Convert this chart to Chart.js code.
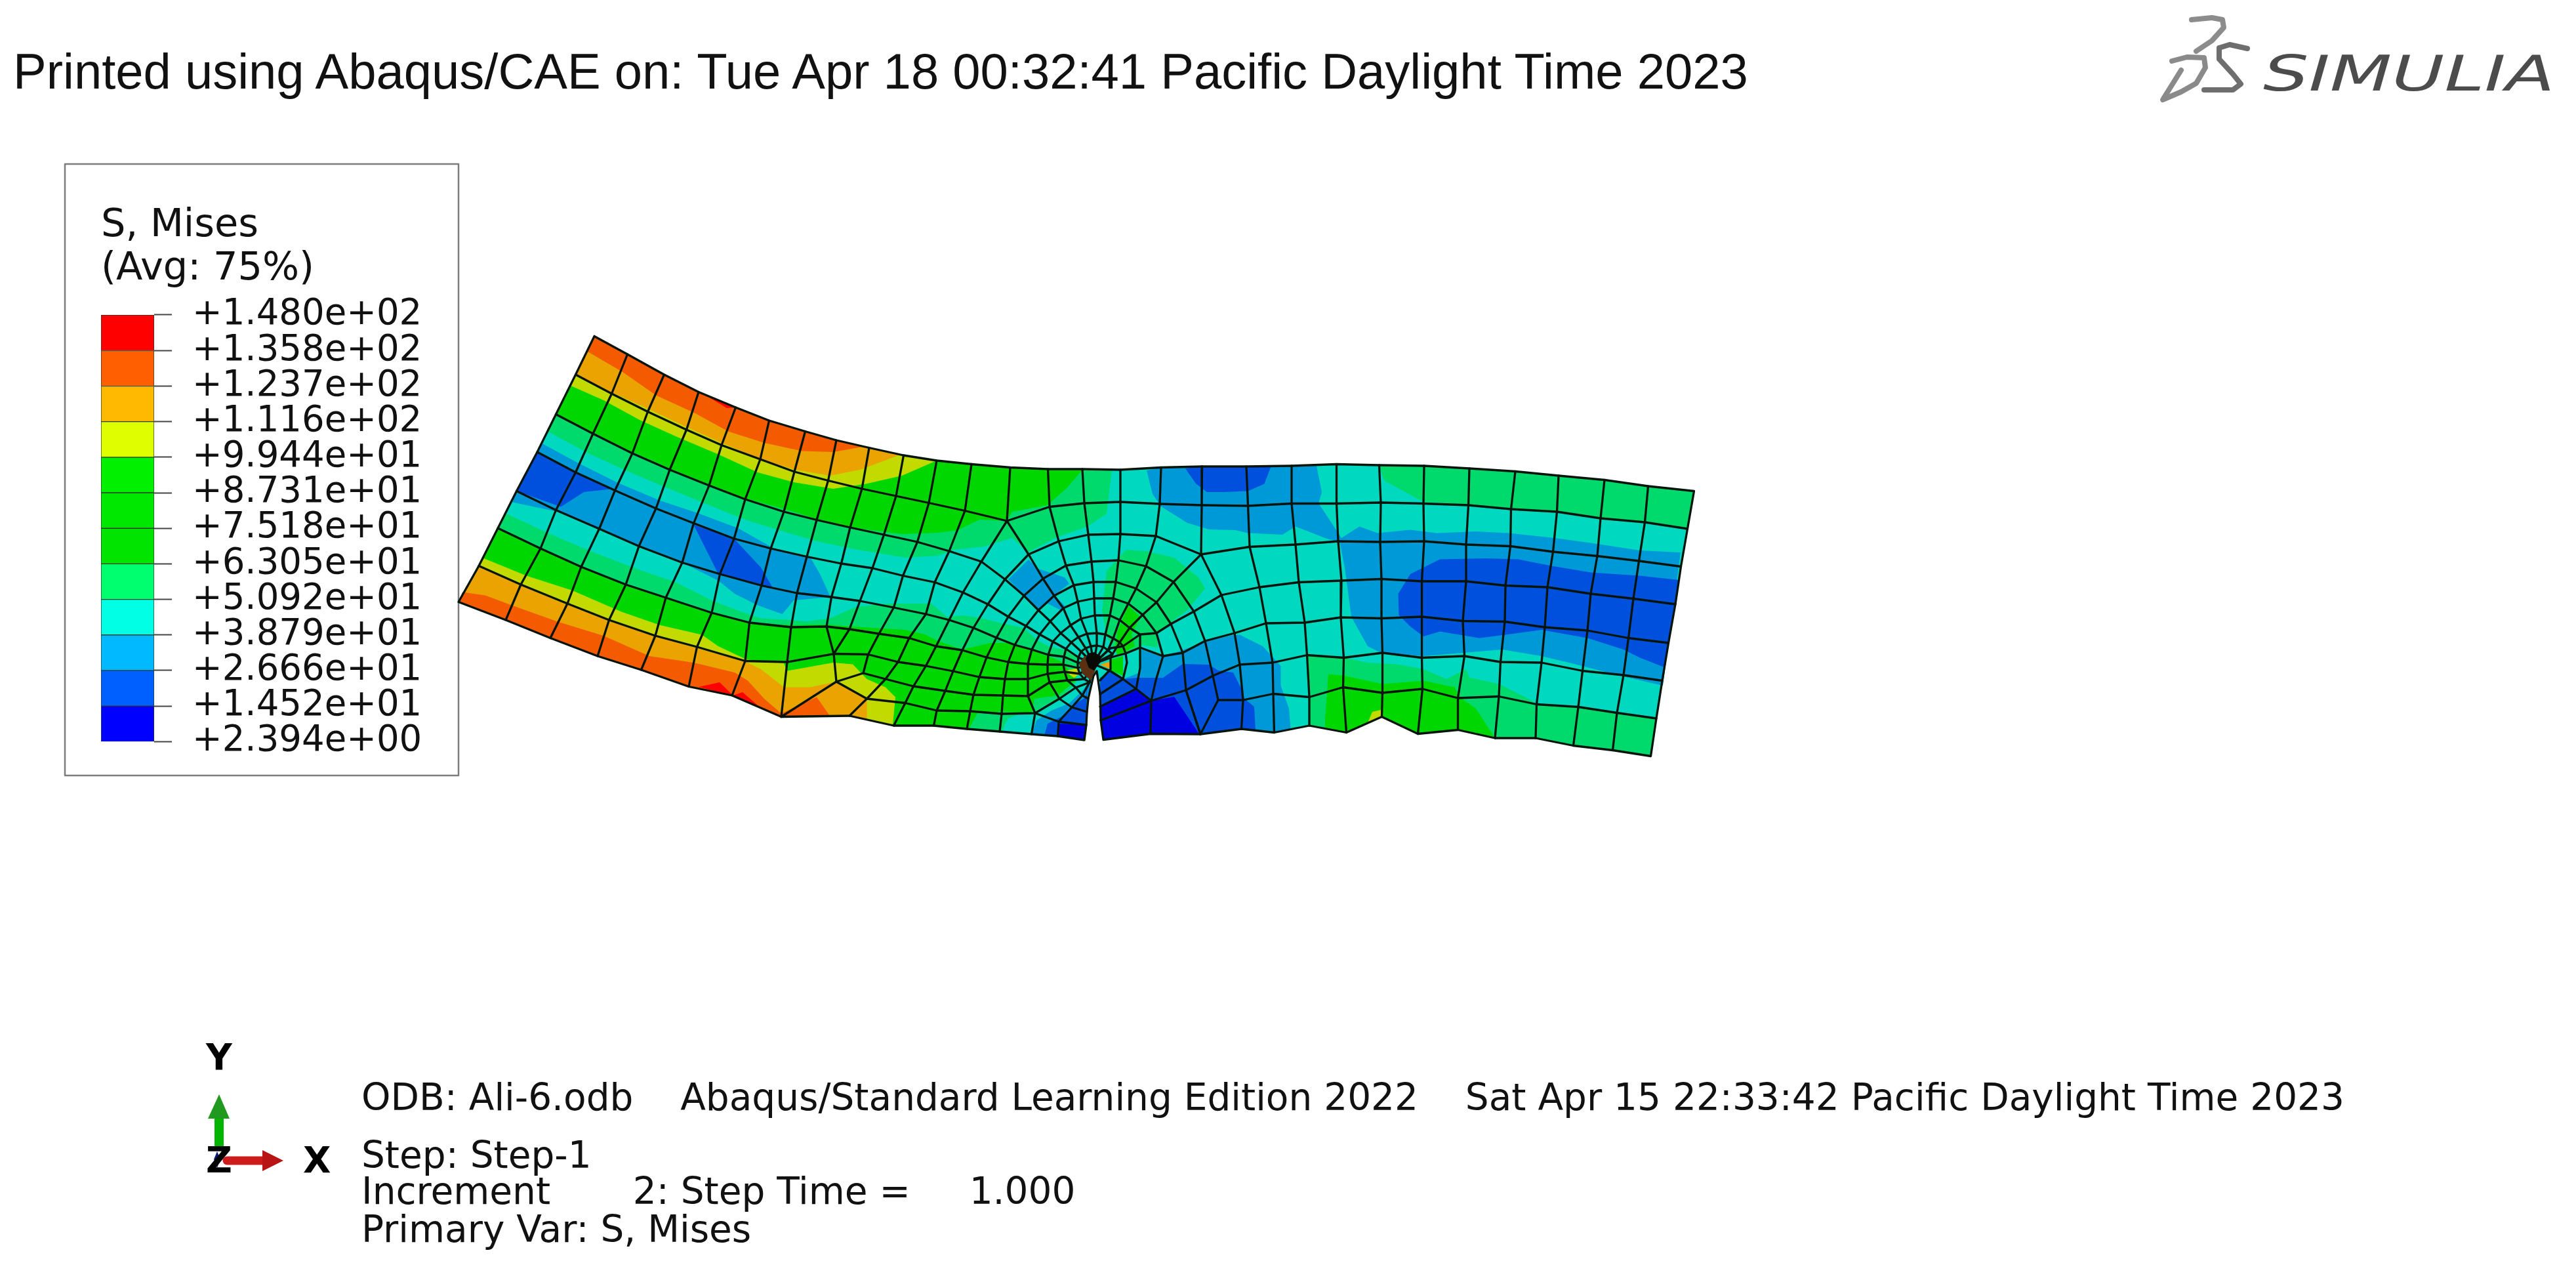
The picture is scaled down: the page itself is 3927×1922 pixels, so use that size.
<!DOCTYPE html>
<html>
<head>
<meta charset="utf-8">
<title>S, Mises</title>
<script src="https://cdn.jsdelivr.net/npm/chart.js@4/dist/chart.umd.min.js"></script>
<style>
    html, body { margin: 0; padding: 0; background: #fff; width: 3927px; height: 1922px; overflow: hidden; }
    canvas { position: absolute; }
    #meshChart { left: 0; top: 0; filter: blur(0.7px); }
    #legendChart { left: 154px; top: 312px; }
    .txt { position: absolute; white-space: pre; line-height: 1; color: #000; }
    .info { font-family: "DejaVu Sans"; font-size: 56.5px; left: 551px; color: #111; }
    .axis { font-family: "DejaVu Sans"; font-weight: bold; font-size: 55px; color: #000; }
    #printed { font-family: "Liberation Sans"; font-size: 76px; left: 20px; top: 71px; color: #111; }
    #simulia { font-family: "DejaVu Sans"; font-style: oblique; font-size: 75px; left: 3450px; top: 75px; color: #4c4c4c; transform: scaleX(1.46); transform-origin: left center; }
</style>
</head>
<body>
<canvas id="meshChart" width="3927" height="1922"></canvas>
<canvas id="legendChart" width="490" height="882"></canvas>

<div class="txt" id="printed">Printed using Abaqus/CAE on: Tue Apr 18 00:32:41 Pacific Daylight Time 2023</div>
<div class="txt" id="simulia">SIMULIA</div>
<div class="txt info" style="top:1645px">ODB: Ali-6.odb    Abaqus/Standard Learning Edition 2022    Sat Apr 15 22:33:42 Pacific Daylight Time 2023</div>
<div class="txt info" style="top:1733px">Step: Step-1</div>
<div class="txt info" style="top:1788px">Increment       2: Step Time =     1.000</div>
<div class="txt info" style="top:1846px">Primary Var: S, Mises</div>
<div class="txt axis" style="left:314px;top:1584px">Y</div>
<div class="txt axis" style="left:462px;top:1741px">X</div>
<div class="txt axis" style="left:314px;top:1741px">Z</div>

<script>
// Legend values
const legendLevels = [148.0, 135.8, 123.7, 111.6, 99.44, 87.31, 75.18, 63.05, 50.92, 38.79, 26.66, 14.52, 2.394];
const legendTickLabels = ['+1.480e+02', '+1.358e+02', '+1.237e+02', '+1.116e+02', '+9.944e+01', '+8.731e+01', '+7.518e+01',
    '+6.305e+01', '+5.092e+01', '+3.879e+01', '+2.666e+01', '+1.452e+01', '+2.394e+00'];
const legendColors = ['#ff0000', '#ff5f00', '#ffb900', '#dfff00', '#00f000', '#00e800', '#00e400', '#00ff6e', '#00ffe5', '#00b9ff', '#005fff', '#0000ff'];
const legendTitle = ['S, Mises', '(Avg: 75%)'];

// Contour colours as they look on the lit part
const cRed = '#ff0000', cOrangeRed = '#f45a00', cOrange = '#eaa300', cYellow = '#c2da00', cGreen = '#00d600',
    cSpring = '#00da6c', cTeal = '#00d8c0', cSky = '#0099d8', cBlue = '#0050de', cDeep = '#0000e0';

// Part outline
const topEdge = [[906,512.5],[956.5,540],[1012.5,571],[1065,597.5],[1121.5,621],[1172.5,641],[1227.5,657.5],[1275,671],[1325,682.5],[1377.5,694],[1428,702],[1481,707.5],[1540,712.5],[1597.5,715],[1650,715],[1708,716],[1770,712.5],[1832.5,711],[1900,711],[1969,710],[2037.5,707.5],[2102.5,709],[2171,710],[2240,714],[2310,718.5],[2376,725],[2446,731.5],[2512.5,741],[2582.5,748.5]];
const rightEdge = [[2582.5,748.5],[2572.5,806],[2562.5,863.5],[2554,921],[2543.5,980],[2534,1037.5],[2525,1095],[2516.5,1152.5]];
const bottomEdge = [[699,917.5],[771,945],[839,972.5],[911,1000],[977.5,1021],[1050,1046.5],[1116,1060],[1191,1092.5],[1295,1091],[1362.5,1106],[1423.5,1106],[1474,1111],[1524,1115],[1572.5,1119],[1612.5,1122],[1653,1128],[1656,1105],[1657,1085],[1659,1065],[1667,1030],[1672,1023],[1677,1058],[1678,1098],[1682,1127.5],[1754,1118.5],[1830,1119],[1892.5,1111],[1942.5,1116.5],[1996,1106],[2052.5,1116.5],[2106.5,1092.5],[2161.5,1118.5],[2222.5,1112.5],[2279,1125],[2341,1125],[2398.5,1136.5],[2458.5,1143.5],[2516.5,1152.5]];
const leftEdge = [[699,917.5],[730,862.5],[759,805],[787.5,748.5],[819,689],[847.5,631.5],[877.5,571],[906,512.5]];

// Lines running along the part, left block
const longLines = [
    [[877.5,571],[932.5,600],[987.5,627.5],[1046.5,655],[1100,678.5],[1159,700],[1211,719],[1262.5,732.5],[1314,745],[1366,756],[1416,766.5],[1471,778.5],[1535,794],[1600,772.5],[1653,767],[1708,765],[1768,768],[1832,770],[1902.5,771],[1969,767.5],[2037.5,767.5],[2105,766],[2170,767.5],[2238.5,770],[2303.5,776],[2373.5,780],[2440,790],[2507.5,796],[2572.5,806]],
    [[847.5,631.5],[904,661],[964,691],[1021,716],[1081,740],[1136,761],[1195,780],[1245,792.5],[1296,804],[1347.5,815],[1398.5,826],[1447,840],[1496,856],[1532,883],[1561,908],[1583,930],[1601,947],[1617,965],[1633,979],[1648,993],[1667,1012]],
    [[819,689],[877.5,720],[937.5,747.5],[1000,775],[1057.5,797.5],[1119,821],[1175,836],[1230,848.5],[1282.5,859],[1330,866],[1376.5,877.5],[1425,887.5],[1468,903],[1506,921],[1537,940],[1564,954],[1585,967],[1605,978],[1625,989],[1644,1002],[1667,1012]],
    [[787.5,748.5],[847.5,777.5],[913.5,806],[974,832.5],[1040,857.5],[1097.5,875],[1161,892.5],[1215,904],[1267.5,910],[1311,916],[1362.5,926],[1411.5,936],[1447,945],[1484,957],[1519,972],[1547,983],[1573,990],[1598,998],[1622,1001],[1643,1010],[1667,1012]],
    [[759,805],[824,836],[886,864],[954,891],[1015,911],[1085,934],[1142.5,949],[1206,956],[1260,955],[1295,959],[1340,966],[1386,972.5],[1427,985],[1467,991],[1504,1002],[1537,1009],[1567,1012],[1597,1013],[1621,1013],[1643,1018],[1667,1012]],
    [[730,862.5],[794,891],[865,920],[928.5,945],[999,969],[1062.5,986],[1136,1007.5],[1200,1009],[1271,996.5],[1323.5,997.5],[1369,1009],[1411.5,1015],[1453,1023],[1493,1032],[1532,1035],[1567,1035],[1597,1027],[1623,1024],[1646,1027],[1667,1012]],
    [[1275,1039],[1316,1026],[1350,1035],[1392.5,1046],[1441,1053],[1484,1059],[1529,1060],[1567,1061],[1600,1040],[1627,1037],[1653,1035],[1667,1012]],
    [[1275,1039],[1321.5,1065],[1380,1071.5],[1428,1083],[1479,1084],[1527,1088],[1578,1087],[1615,1065],[1640,1048],[1661,1040],[1667,1012]]
];

// Lines running along the part, right block
const longLinesRight = [
    [[1831,845],[1905,833.5],[1975,830],[2040,825],[2104,826],[2171,825],[2235,830],[2302.5,832.5],[2367.5,841],[2435,847.5],[2498.5,855],[2562.5,863.5]],
    [[1667,1012],[1693,988],[1712,985],[1738,967],[1763,965],[1785,951],[1820,932],[1862,907],[1920,895],[1980,887.5],[2045,885],[2106,882.5],[2167.5,886],[2235,886],[2295,892.5],[2359,895],[2425,905],[2490,912.5],[2554,921]],
    [[1667,1012],[1697,1001],[1716,996],[1738,987],[1773,1000],[1803,995],[1837,977],[1882,965],[1930,950],[1989,949],[2044,941],[2106,942.5],[2167.5,940],[2230,946.5],[2294,947.5],[2355,956],[2420,961],[2482.5,972.5],[2543.5,980]],
    [[1678,1098],[1755,1068],[1808,1052],[1849,1030],[1890,1013],[1940,1010],[1992.5,998.5],[2048.5,1002.5],[2107.5,995],[2167.5,1002.5],[2232.5,1000],[2287.5,1009],[2350,1010],[2412.5,1022.5],[2475,1029],[2534,1037.5]],
    [[1857,1067],[1895,1067],[1941,1057.5],[1996,1062.5],[2047.5,1047.5],[2107.5,1056],[2168.5,1050],[2222.5,1064],[2285,1061.5],[2342.5,1073.5],[2406,1077.5],[2465,1086.5],[2525,1095]]
];

// Cross lines, left block
const crossLines = [
    [[956.5,540],[932.5,600],[904,661],[877.5,720],[847.5,777.5],[824,836],[794,891],[771,945]],
    [[1012.5,571],[987.5,627.5],[964,691],[937.5,747.5],[913.5,806],[886,864],[865,920],[839,972.5]],
    [[1065,597.5],[1046.5,655],[1021,716],[1000,775],[974,832.5],[954,891],[928.5,945],[911,1000]],
    [[1121.5,621],[1100,678.5],[1081,740],[1057.5,797.5],[1040,857.5],[1015,911],[999,969],[977.5,1021]],
    [[1172.5,641],[1159,700],[1136,761],[1119,821],[1097.5,875],[1085,934],[1062.5,986],[1050,1046.5]],
    [[1227.5,657.5],[1211,719],[1195,780],[1175,836],[1161,892.5],[1142.5,949],[1136,1007.5],[1116,1060]],
    [[1275,671],[1262.5,732.5],[1245,792.5],[1230,848.5],[1215,904],[1206,956],[1200,1009],[1191,1092.5]],
    [[1325,682.5],[1314,745],[1296,804],[1282.5,859],[1267.5,910],[1260,955],[1271,996.5],[1275,1039],[1191,1092.5]],
    [[1377.5,694],[1366,756],[1347.5,815],[1330,866],[1311,916],[1295,959],[1271,996.5]],
    [[1428,702],[1416,766.5],[1398.5,826],[1376.5,877.5],[1362.5,926],[1340,966],[1323.5,997.5],[1316,1026]],
    [[1481,707.5],[1471,778.5],[1447,840],[1425,887.5],[1411.5,936],[1386,972.5],[1369,1009],[1350,1035],[1321.5,1065],[1295,1091]],
    [[1540,712.5],[1535,794],[1496,856],[1468,903],[1447,945],[1427,985],[1411.5,1015],[1392.5,1046],[1380,1071.5],[1362.5,1106]]
];

// Rings around the crack tip, outer ones first
const tipRings = [
    [[1423.5,1106],[1428,1083],[1441,1053],[1453,1023],[1467,991],[1484,957],[1506,921],[1532,883],[1568,845],[1614,825],[1659,815],[1708,814],[1762,817],[1831,845],[1862,907],[1882,965],[1890,1013],[1895,1067],[1892.5,1111]],
    [[1474,1111],[1479,1084],[1484,1059],[1493,1032],[1504,1002],[1519,972],[1537,940],[1561,908],[1590,882],[1625,862],[1664,856],[1705,854],[1747,863],[1789,887],[1820,932],[1837,977],[1849,1030],[1857,1067],[1830,1119]],
    [[1524,1115],[1527,1088],[1529,1060],[1532,1035],[1537,1009],[1547,983],[1564,954],[1583,930],[1607,908],[1637,892],[1667,887],[1701,887],[1732,897],[1763,918],[1785,951],[1803,995],[1808,1052],[1830,1119]],
    [[1656,1105],[1614,1100],[1578,1087],[1567,1061],[1567,1035],[1567,1012],[1573,990],[1585,967],[1601,947],[1621,927],[1643,917],[1668,912],[1697,912],[1720,920],[1742,937],[1763,965],[1773,1000],[1762,1037],[1755,1068],[1754,1118.5]],
    [[1657,1085],[1634,1078],[1615,1065],[1600,1040],[1597,1027],[1597,1013],[1598,998],[1605,978],[1617,965],[1632,953],[1648,943],[1669,938],[1692,938],[1707,945],[1722,957],[1738,967],[1738,987],[1738,1018],[1732,1050],[1677,1077]],
    [[1659,1065],[1650,1060],[1640,1048],[1627,1037],[1623,1024],[1621,1013],[1622,1001],[1625,989],[1633,979],[1644,971],[1657,966],[1672,965],[1685,967],[1697,973],[1707,979],[1712,985],[1716,996],[1718,1010],[1712,1035],[1677,1058]],
    [[1661,1040],[1653,1035],[1646,1027],[1643,1018],[1643,1010],[1644,1002],[1648,993],[1655,988],[1663,985],[1672,984],[1682,986],[1689,991],[1696,997],[1693,1003],[1693,1020],[1677,1037]]
];

// Lines that run into the crack tip from above, and the short ones beside the crack
const tipSpokes = [
    [[1535,794],[1568,845],[1590,882],[1607,908],[1621,927],[1632,953],[1644,971],[1655,988],[1667,1012]],
    [[1597.5,715],[1600,772.5],[1614,825],[1625,862],[1637,892],[1643,917],[1648,943],[1657,966],[1663,985],[1667,1012]],
    [[1650,715],[1653,767],[1659,815],[1664,856],[1667,887],[1668,912],[1669,938],[1672,965],[1672,984],[1667,1012]],
    [[1708,716],[1708,765],[1708,814],[1705,854],[1701,887],[1697,912],[1692,938],[1685,967],[1682,986],[1667,1012]],
    [[1770,712.5],[1768,768],[1762,817],[1747,863],[1732,897],[1720,920],[1707,945],[1697,973],[1689,991],[1667,1012]],
    [[1831,845],[1789,887],[1763,918],[1742,937],[1722,957],[1707,979],[1696,997],[1667,1012]],
    [[1667,1012],[1693,1023],[1712,1035],[1732,1050],[1755,1068]],
    [[1578,1087],[1572.5,1119]],
    [[1661,1040],[1650,1060],[1634,1078],[1614,1100],[1612.5,1122]],
    [[1832.5,711],[1832,770],[1831,845]],
    [[1808,1052],[1830,1119]]
];

// Cross lines, right block
const crossLinesRight = [
    [[1900,711],[1902.5,771],[1905,833.5],[1920,895],[1930,950],[1940,1010],[1941,1057.5],[1942.5,1116.5]],
    [[1969,710],[1969,767.5],[1975,830],[1980,887.5],[1989,949],[1992.5,998.5],[1996,1062.5],[1996,1106]],
    [[2037.5,707.5],[2037.5,767.5],[2040,825],[2045,885],[2044,941],[2048.5,1002.5],[2047.5,1047.5],[2052.5,1116.5]],
    [[2102.5,709],[2105,766],[2104,826],[2106,882.5],[2106,942.5],[2107.5,995],[2107.5,1056],[2106.5,1092.5]],
    [[2171,710],[2170,767.5],[2171,825],[2167.5,886],[2167.5,940],[2167.5,1002.5],[2168.5,1050],[2161.5,1118.5]],
    [[2240,714],[2238.5,770],[2235,830],[2235,886],[2230,946.5],[2232.5,1000],[2222.5,1064],[2222.5,1112.5]],
    [[2310,718.5],[2303.5,776],[2302.5,832.5],[2295,892.5],[2294,947.5],[2287.5,1009],[2285,1061.5],[2279,1125]],
    [[2376,725],[2373.5,780],[2367.5,841],[2359,895],[2355,956],[2350,1010],[2342.5,1073.5],[2341,1125]],
    [[2446,731.5],[2440,790],[2435,847.5],[2425,905],[2420,961],[2412.5,1022.5],[2406,1077.5],[2398.5,1136.5]],
    [[2512.5,741],[2507.5,796],[2498.5,855],[2490,912.5],[2482.5,972.5],[2475,1029],[2465,1086.5],[2458.5,1143.5]]
];

// Contour bands, upper left, nested from the outside in
const topSpring = [[835,657.5],[895,690],[955,717.5],[1020,745],[1075,767.5],[1130,790],[1185,807.5],[1245,825],[1305,837.5],[1380,850],[1430,847],[1453,838],[1500,833],[1543,820],[1567,842],[1613,818],[1657,803],[1687,783],[1695,716]];
const topGreen = [[847,631],[904,659],[964,689],[1021,714],[1085,740],[1137,760],[1200,777],[1245,791],[1305,805],[1375,814],[1430,812],[1460,808],[1493,792],[1535,794],[1543,780],[1597,770],[1627,743],[1650,716]];
const topYellow = [[869,587.5],[920,610],[975,640],[1030,665],[1095,692.5],[1155,720],[1210,735],[1270,745],[1320,737.5],[1375,725],[1428,702]];
const topOrange = [[877.5,570],[935,599],[990,624],[1045,650],[1100,675],[1160,700],[1212.5,716],[1265,725],[1311,716],[1372.5,693]];
const topOrangeRed = [[896,536],[950,567.5],[1000,602.5],[1060,630],[1110,657.5],[1165,675],[1222.5,687.5],[1270,689],[1315,681]];
const topRed = [[1075,602],[1121.5,621],[1108,622]];

// Contour bands, lower left
const bottomSpring = [[771,782.5],[835,812.5],[900,840],[965,865],[1030,887.5],[1085,915],[1130,932.5],[1160,942.5],[1205,945],[1230,947],[1265,942.5],[1305,925],[1355,920],[1420,920],[1443,940],[1470,938],[1500,943],[1527,950],[1560,957],[1583,977],[1603,987],[1623,990],[1643,1002],[1643,1023],[1640,1040],[1623,1060],[1590,1077],[1577,1085],[1557,1087],[1537,1095],[1527,1115]];
const bottomGreen = [[759,805],[824,836],[886,864],[954,891],[1015,911],[1085,934],[1142.5,949],[1206,953],[1260,952],[1330,957],[1380,960],[1410,967],[1430,977],[1467,990],[1510,980],[1543,980],[1573,990],[1597,1000],[1617,1008],[1627,1018],[1640,1037],[1613,1060],[1577,1065],[1573,1087],[1527,1085],[1490,1087],[1477,1111]];
const bottomYellow = [[737.5,851],[802.5,877.5],[872.5,900],[947.5,932.5],[1005,952.5],[1070,967.5],[1095,985],[1137.5,1005],[1195,1011],[1200,1022.5],[1270,1010],[1300,1012.5],[1321.5,1035],[1350,1047.5],[1365,1062.5],[1361,1105]];
const bottomOrange = [[730,864],[791,891],[860,920],[925,945],[997.5,967.5],[1060,987.5],[1137.5,1009],[1160,1020],[1195,1047.5],[1235,1047.5],[1275,1039],[1321.5,1065],[1321.5,1097]];
const bottomOrangeRed = [[705,902.5],[740,907.5],[780,922.5],[850,947.5],[920,969],[990,1000],[1057.5,1010],[1120,1025],[1140,1037.5],[1165,1065],[1191,1087.5],[1245,1062.5],[1265,1091]];
const bottomRed = [[1065,1047],[1097,1040],[1117.5,1060],[1132,1055],[1155,1075],[1130,1067],[1116,1060]];

// Blue belt on the left, along the neutral line
const beltSky = [[826.5,676],[880,705],[940,735],[1005,762.5],[1065,782.5],[1125,805],[1180,836],[1235,849],[1250,875],[1266,910],[1210,915],[1192.5,936],[1155,922.5],[1120,905],[1095,885],[1040,857.5],[975,832.5],[914,807.5],[850,780],[779,765]];
const beltBlueA = [[819,689],[877.5,720],[935,745],[890,750],[855,772.5],[787.5,748.5]];
const beltBlueB = [[1057.5,800],[1119,821],[1160,865],[1177.5,895],[1160,892.5],[1095,875]];
const tipSkyTop = [[1537,883],[1568,853],[1583,867],[1623,880],[1630,890],[1607,907],[1623,923],[1617,930],[1597,920],[1583,930],[1560,907]];

// Bands on the two sides of the crack
const crackLeftSky = [[1663,1035],[1650,1053],[1630,1072],[1603,1083],[1580,1098],[1573,1119],[1612.5,1122],[1653,1128],[1657,1083]];
const crackLeftBlue = [[1658,1043],[1655,1063],[1640,1072],[1617,1093],[1597,1103],[1592,1121],[1612.5,1122],[1653,1128]];
const crackLeftDeep = [[1615,1103],[1655,1105],[1653,1128],[1613,1122]];
const crackRightSky = [[1693,1025],[1712,1035],[1738,1025],[1740,990],[1770,1000],[1797,993],[1840,977],[1880,968],[1890,967.5],[1925,985],[1952.5,1015],[1952.5,1045],[1965,1080],[1967.5,1111],[1942.5,1116.5],[1892.5,1111],[1830,1119],[1754,1118.5],[1682,1127.5],[1678,1098],[1677,1040]];
const crackRightBlue = [[1677,1033],[1693,1023],[1712,1035],[1733,1033],[1773,1033],[1803,1012],[1843,1013],[1857,1022],[1880,1025],[1892.5,1050],[1897,1065],[1912,1077],[1914,1114],[1892.5,1111],[1830,1119],[1754,1118.5],[1682,1127.5],[1678,1098]];
const crackRightDeep = [[1677,1077],[1732,1052],[1755,1068],[1790,1062],[1827,1117],[1754,1118.5],[1682,1127.5],[1678,1098]];

// Around the crack tip
const tipSpring = [[1687,870],[1717,838],[1747,840],[1790,850],[1827,880],[1837,897],[1810,930],[1787,947],[1763,967],[1765,987],[1743,983],[1720,995],[1700,992],[1687,970],[1680,930]];
const tipGreen = [[1700,990],[1703,963],[1720,923],[1738,940],[1725,967],[1730,985],[1703,1000]];
const tipGreenRight = [[1693,1005],[1712,1000],[1712,1030],[1693,1022]];
const tipYellow = [[1623,1023],[1643,1018],[1647,1027],[1637,1033]];
const tipOrange = [[1677,1013],[1693,1008],[1693,1020]];
const tipBrown = [[1645,1012],[1650,1027],[1663,1037],[1669,1023],[1673,1010],[1667,1000],[1653,1000]];
const tipBlack = [[1655,1005],[1660,1018],[1668,1022],[1677,1010],[1678,1000],[1668,994],[1658,996]];

// Right part of the field
const rightSky = [[1748,717],[1757,753],[1770,772],[1810,797],[1843,807],[1883,808],[1902.5,812.5],[1955,815],[1975,802.5],[2020,820],[2042.5,827],[2050,865],[2060,940],[2085,985],[2105,995],[2170,1000],[2230,995],[2290,990],[2350,1000],[2400,1012],[2470,1030],[2535,1045],[2562,842],[2500,839],[2425,827.5],[2370,820],[2300,812.5],[2250,810],[2190,812.5],[2150,807.5],[2100,812.5],[2072.5,802.5],[2045,820],[2010,767],[2015,750],[2007,710],[1969,710],[1900,711],[1832.5,711],[1770,712.5]];
const rightBlueTop = [[1807,714],[1823,737],[1840,750],[1865,750],[1902.5,748.5],[1927.5,737.5],[1937.5,711],[1900,711],[1832.5,711]];
const rightBlue = [[2131.5,905],[2150,875],[2195,852.5],[2265,851],[2315,852.5],[2365,862.5],[2425,872.5],[2500,877.5],[2559,884],[2554,921],[2543.5,980],[2537,1017],[2500,1002.5],[2475,990],[2420,972.5],[2350,960],[2295,967.5],[2255,972.5],[2195,962.5],[2170,970],[2150,955],[2132.5,937.5]];
const rightSpringTop = [[2102.5,709],[2110,732.5],[2170,765],[2240,769],[2305,776],[2372.5,780],[2440,790],[2507.5,796],[2572.5,806],[2582.5,748.5],[2512.5,741],[2446,731.5],[2376,725],[2310,718.5],[2240,714],[2171,710]];
const rightSpringLow = [[1992.5,998.5],[2048.5,1002.5],[2085,1010],[2130,1012.5],[2170,1020],[2205,1035],[2235,1020],[2240,1032.5],[2285,1042.5],[2330,1065],[2342.5,1073.5],[2406,1077.5],[2465,1086.5],[2525,1095],[2516.5,1152.5],[2458.5,1143.5],[2398.5,1136.5],[2341,1125],[2279,1125],[2222.5,1112.5],[2161.5,1118.5],[2106.5,1092.5],[2052.5,1116.5],[1996,1106]];
const rightGreenLow = [[2020,1097.5],[2025,1027.5],[2050,1030],[2107.5,1042.5],[2170,1037.5],[2217.5,1047.5],[2225,1062.5],[2250,1080],[2279,1125],[2222.5,1112.5],[2161.5,1118.5],[2106.5,1092.5],[2052.5,1116.5],[2020,1110]];
const rightYellowLow = [[2092,1085],[2105,1082],[2106.5,1092.5],[2085,1102]];

// Legend frame, triad and logo strokes
const legendFrame = [[99,250],[699,250],[699,1182],[99,1182],[99,250]];
const triadY = [[334,1747],[334,1700]];
const triadYHead = [[334,1668],[350,1705],[317,1705]];
const triadX = [[346,1769],[403,1769]];
const triadXHead = [[432,1769],[400,1753],[400,1785]];
const triadZ = [[331,1755],[336,1767],[331,1780],[326,1767]];
const logoSevenStroke = [[3341,30],[3372,27],[3388,30],[3390,42],[3372,62],[3348,78]];
const logoEssStroke = [[3426,74],[3399,68],[3383,73],[3383,90],[3404,113],[3416,128],[3404,137],[3360,137]];
const logoDeeStroke = [[3311,93],[3334,87],[3360,88],[3362,103],[3348,127],[3325,140],[3297,152],[3325,107]];

const toPoints = list => list.map(([x, y]) => ({ x, y }));

// Filled closed shape
function band(points, color) {
    return { data: toPoints(points.concat([points[0]])), showLine: true, fill: 'shape', backgroundColor: color, borderWidth: 0, pointRadius: 0 };
}

// Plain stroked line
function stroke(points, color, width) {
    return { data: toPoints(points), showLine: true, fill: false, borderColor: color, borderWidth: width, pointRadius: 0, borderJoinStyle: 'round', borderCapStyle: 'round' };
}

// Bands that touch the top or bottom edge are closed along that edge
const backAlongTop = x => topEdge.filter(p => p[0] < x).reverse();
const backAlongBottom = x => bottomEdge.filter(p => p[0] < x).reverse();
const withTop = list => list.concat(backAlongTop(list[list.length - 1][0]));
const withBottom = list => list.concat(backAlongBottom(list[list.length - 1][0]));

const outline = topEdge.concat(rightEdge.slice(1), bottomEdge.slice().reverse().slice(1), leftEdge.slice(1));
const meshColor = '#07140c';
const meshWidth = 3.3;

// Paint order, first one at the bottom
const layers = [
    stroke(legendFrame, '#7d7d7d', 2.5),
    band(outline, cTeal),
    band(withTop(topSpring), cSpring),
    band(withTop(topGreen), cGreen),
    band(withTop(topYellow), cYellow),
    band(withTop(topOrange), cOrange),
    band(withTop(topOrangeRed), cOrangeRed),
    band(topRed, cRed),
    band(withBottom(bottomSpring), cSpring),
    band(withBottom(bottomGreen), cGreen),
    band(withBottom(bottomYellow), cYellow),
    band(withBottom(bottomOrange), cOrange),
    band(withBottom(bottomOrangeRed), cOrangeRed),
    band(bottomRed, cRed),
    band(beltSky, cSky),
    band(beltBlueA, cBlue),
    band(beltBlueB, cBlue),
    band(tipSkyTop, cSky),
    band(tipSpring, cSpring),
    band(tipGreen, cGreen),
    band(tipGreenRight, cGreen),
    band(tipYellow, cYellow),
    band(crackLeftSky, cSky),
    band(crackLeftBlue, cBlue),
    band(crackLeftDeep, cDeep),
    band(rightSky, cSky),
    band(rightBlueTop, cBlue),
    band(rightBlue, cBlue),
    band(rightSpringTop, cSpring),
    band(rightSpringLow, cSpring),
    band(rightGreenLow, cGreen),
    band(rightYellowLow, cYellow),
    band(crackRightSky, cSky),
    band(crackRightBlue, cBlue),
    band(crackRightDeep, cDeep),
    band(tipOrange, cOrange)
];

[longLines, longLinesRight, crossLines, crossLinesRight, tipRings, tipSpokes].forEach(group => {
    group.forEach(line => layers.push(stroke(line, meshColor, meshWidth)));
});
layers.push(stroke(outline.concat([outline[0]]), meshColor, meshWidth));
layers.push(band(tipBrown, '#5b2f12'));
layers.push(band(tipBlack, '#0a0a05'));

layers.push(stroke(triadY, '#00b400', 14));
layers.push(band(triadYHead, '#1f9a1f'));
layers.push(stroke(triadX, '#cc1c1c', 13));
layers.push(band(triadXHead, '#b81616'));
layers.push(band(triadZ, '#0a1a80'));
layers.push(stroke(logoSevenStroke, '#8c8c8c', 8));
layers.push(stroke(logoEssStroke, '#6e6e6e', 8));
layers.push(stroke(logoDeeStroke, '#8a8a8a', 8));

new Chart(document.getElementById('meshChart').getContext('2d'), {
    type: 'scatter',
    data: { datasets: layers.reverse() },   // Chart.js paints the first dataset last
    options: {
        responsive: false,
        devicePixelRatio: 1,
        animation: false,
        layout: { padding: 0 },
        plugins: { legend: { display: false }, tooltip: { enabled: false } },
        scales: {
            x: { type: 'linear', min: 0, max: 3927, display: false },
            y: { type: 'linear', min: 0, max: 1922, reverse: true, display: false }
        }
    }
});

// Colour bar with its tick labels
const legendBars = legendColors.map((color, i) => ({
    data: [[legendLevels[i + 1], legendLevels[i]]],
    backgroundColor: color,
    borderColor: '#2a3a2a',
    borderWidth: 1,
    borderSkipped: false,
    barPercentage: 1,
    categoryPercentage: 1,
    grouped: false
}));

new Chart(document.getElementById('legendChart').getContext('2d'), {
    type: 'bar',
    data: { labels: ['S, Mises'], datasets: legendBars },
    options: {
        responsive: false,
        devicePixelRatio: 1,
        animation: false,
        layout: { padding: { bottom: 30 } },
        plugins: {
            legend: { display: false },
            tooltip: { enabled: false },
            title: {
                display: true,
                text: legendTitle,
                align: 'start',
                color: '#111',
                font: { family: 'DejaVu Sans', size: 59, weight: 'normal', lineHeight: 1.11 },
                padding: { top: 0, bottom: 37 }
            }
        },
        scales: {
            x: { display: false },
            y: {
                position: 'right',
                min: legendLevels[12],
                max: legendLevels[0],
                border: { display: false },
                afterBuildTicks: axis => { axis.ticks = legendLevels.map(value => ({ value })); },
                afterFit: axis => { axis.width = 409; },
                grid: { drawOnChartArea: false, tickLength: 27, tickColor: '#444', tickWidth: 2 },
                ticks: {
                    autoSkip: false,
                    padding: 31,
                    color: '#111',
                    font: { family: 'DejaVu Sans', size: 54.5 },
                    callback: (value, index) => legendTickLabels[index]
                }
            }
        }
    }
});
</script>
</body>
</html>
